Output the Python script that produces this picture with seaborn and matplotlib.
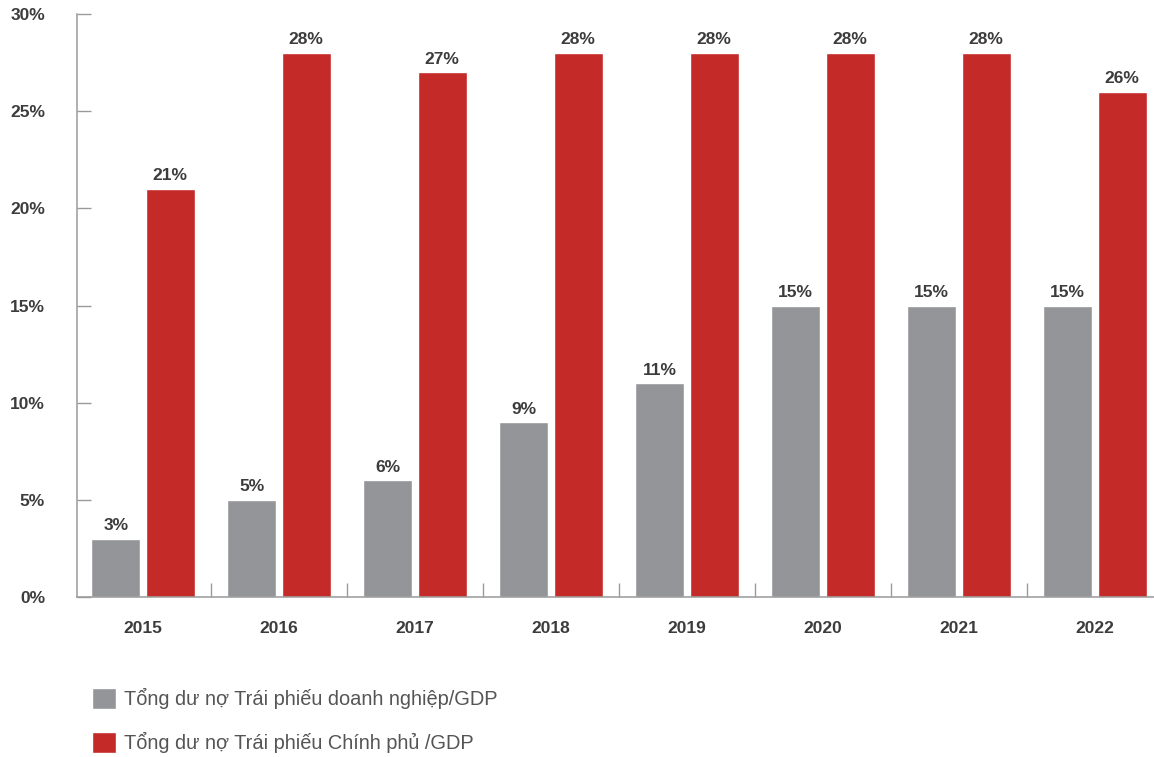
import numpy as np
import pandas as pd
import seaborn as sns
import matplotlib.pyplot as plt
from matplotlib.ticker import FixedLocator


# Dữ liệu
years = ['2015', '2016', '2017', '2018', '2019', '2020', '2021', '2022']
corp_bonds = [3, 5, 6, 9, 11, 15, 15, 15]
gov_bonds = [21, 28, 27, 28, 28, 28, 28, 26]
series_names = [
    'Tổng dư nợ Trái phiếu doanh nghiệp/GDP',
    'Tổng dư nợ Trái phiếu Chính phủ /GDP',
]
y_ticks = [0, 5, 10, 15, 20, 25, 30]

gray = '#939598'
red = '#c42a27'
text_dark = '#3c3c3c'
axis_gray = '#9a9a9a'

df = pd.DataFrame({
    'year': years * 2,
    'value': corp_bonds + gov_bonds,
    'series': [series_names[0]] * len(years) + [series_names[1]] * len(years),
})

sns.set_style('white')
plt.rcParams['font.family'] = ['Liberation Sans', 'DejaVu Sans']

fig = plt.figure(figsize=(11.54, 7.57), dpi=100)
ax = fig.add_axes([77 / 1154, 1 - 597 / 757, 1 - 77 / 1154, 583 / 757])

sns.barplot(
    data=df,
    x='year',
    y='value',
    hue='series',
    palette=[gray, red],
    width=0.8,
    gap=0.1,
    saturation=1,
    ax=ax,
)

# nhãn giá trị trên cột
for container in ax.containers:
    vals = [int(round(b.get_height())) for b in container]
    ax.bar_label(
        container,
        labels=[f'{v}%' for v in vals],
        padding=4,
        fontsize=12.5,
        fontweight='bold',
        color=text_dark,
    )

ax.set_xlim(-0.485, 7.435)
ax.set_ylim(0, 30)
ax.set_xlabel('')
ax.set_ylabel('')

ax.set_yticks(y_ticks)
ax.set_yticklabels([f'{t}%' for t in y_ticks])
ax.tick_params(axis='y', direction='in', length=10, width=1, color=axis_gray,
               pad=23, labelsize=12.5, labelcolor=text_dark, left=True)
for lbl in ax.get_yticklabels():
    lbl.set_fontweight('bold')

ax.xaxis.set_minor_locator(FixedLocator(np.arange(1, len(years)) - 0.5))
ax.tick_params(axis='x', which='major', length=0, pad=17, labelsize=12.5,
               labelcolor=text_dark)
ax.tick_params(axis='x', which='minor', direction='in', length=10, width=1,
               color=axis_gray, bottom=True)
for lbl in ax.get_xticklabels():
    lbl.set_fontweight('bold')

sns.despine(ax=ax, top=True, right=True)
for side in ['left', 'bottom']:
    ax.spines[side].set_color(axis_gray)
    ax.spines[side].set_linewidth(1.1)

# chú thích phía dưới
handles, labels = ax.get_legend_handles_labels()
ax.legend_.remove()
fig.legend(
    handles, labels,
    loc='upper left',
    bbox_to_anchor=(92 / 1154, 1 - 688 / 757),
    frameon=False,
    fontsize=14.4,
    handlelength=1.2,
    handleheight=1.2,
    handletextpad=0.4,
    labelspacing=1.15,
    borderpad=0,
    borderaxespad=0,
    labelcolor='#555555',
)

fig.savefig('out.png', dpi=100)
